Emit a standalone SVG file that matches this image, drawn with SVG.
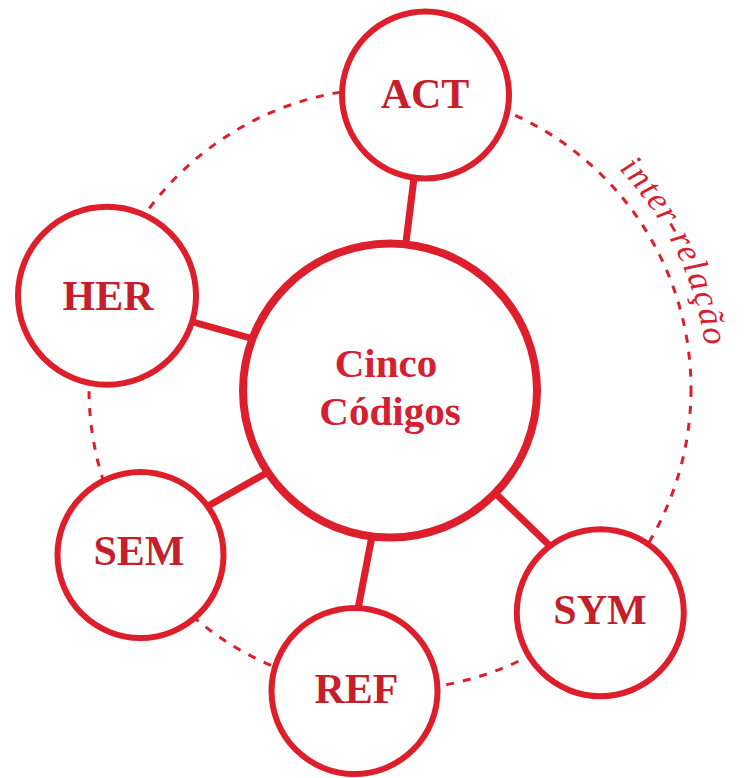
<svg xmlns="http://www.w3.org/2000/svg" width="744" height="778" viewBox="0 0 744 778">
  <style>
    .node { fill: #ffffff; stroke: #dc1f2b; stroke-width: 6; }
    .hub { fill: #ffffff; stroke: #dc1f2b; stroke-width: 8; }
    .conn { stroke: #dc1f2b; stroke-width: 7; stroke-linecap: butt; fill: none; }
    .ring { fill: none; stroke: #dc1f2b; stroke-width: 3; stroke-dasharray: 8 9; }
    .lbl { font-family: "Liberation Serif", "Times New Roman", serif; font-weight: bold; font-size: 42px; fill: #c41f2a; text-anchor: middle; }
    .hubtxt { font-family: "Liberation Serif", "Times New Roman", serif; font-weight: bold; font-size: 41px; fill: #d42030; text-anchor: middle; }
    .rel { font-family: "Liberation Serif", "Times New Roman", serif; font-style: italic; font-size: 35px; fill: #d42030; }
  </style>
  <defs>
    <path id="relpath" d="M 618.7 169.1 A 318 318 0 0 1 706.8 362.3"/>
  </defs>
  <g id="ring">
    <circle class="ring" cx="390" cy="389" r="301"/>
  </g>
  <g id="rel-label">
    <text class="rel"><textPath href="#relpath" textLength="200" lengthAdjust="spacing">inter-relação</textPath></text>
  </g>
  <g id="connectors">
    <line class="conn" x1="406" y1="242" x2="414" y2="178"/>
    <line class="conn" x1="193" y1="322" x2="250" y2="338"/>
    <line class="conn" x1="208" y1="506" x2="268" y2="472"/>
    <line class="conn" x1="358" y1="609" x2="372" y2="536"/>
    <line class="conn" x1="494" y1="492" x2="550" y2="546"/>
  </g>
  <g id="center">
    <circle class="hub" cx="390" cy="390.5" r="147"/>
    <text class="hubtxt" x="386" y="377">Cinco</text>
    <text class="hubtxt" x="390" y="425">Códigos</text>
  </g>
  <g id="act">
    <circle class="node" cx="425.5" cy="95" r="83.5"/>
    <text class="lbl" x="425" y="108">ACT</text>
  </g>
  <g id="her">
    <circle class="node" cx="107" cy="295.7" r="89"/>
    <text class="lbl" x="108" y="310">HER</text>
  </g>
  <g id="sem">
    <circle class="node" cx="140.5" cy="555" r="83"/>
    <text class="lbl" x="139" y="565">SEM</text>
  </g>
  <g id="ref">
    <circle class="node" cx="354.5" cy="691" r="83"/>
    <text class="lbl" x="356.5" y="703">REF</text>
  </g>
  <g id="sym">
    <circle class="node" cx="600.3" cy="612.7" r="83.5"/>
    <text class="lbl" x="600" y="624">SYM</text>
  </g>
</svg>
